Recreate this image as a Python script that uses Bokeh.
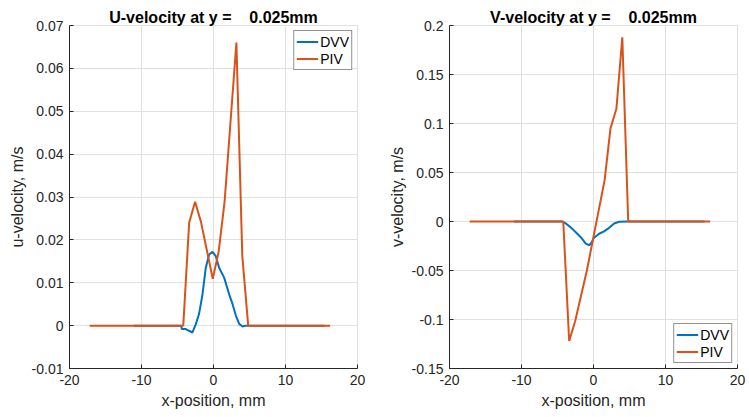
from bokeh.plotting import figure
from bokeh.layouts import row
from bokeh.models import FixedTicker, Legend, LegendItem, Range1d
from bokeh.embed import file_html
from bokeh.resources import INLINE

# ---- data ----
u_dvv_x = [-11.05, -4.5, -4.4, -3.86, -3.4, -2.92, -2.47, -2.01, -1.53, -1.07, -0.61, -0.14,
           0.32, 0.78, 1.48, 2.17, 2.65, 3.11, 3.57, 4.04, 4.5, 15.4]
u_dvv_y = [0, 0, -0.0008, -0.0008, -0.0012, -0.0016, 0.0003, 0.0027, 0.0073, 0.0135, 0.0166, 0.0172,
           0.0162, 0.0135, 0.0112, 0.0073, 0.005, 0.0023, 0.0004, -0.0002, 0, 0]
u_piv_x = [-17.2, -4.2, -3.38, -2.56, -1.74, -0.1, 0.72, 1.54, 3.18, 4.0, 4.82, 16.2]
u_piv_y = [0, 0, 0.024, 0.0289, 0.0242, 0.0109, 0.0173, 0.0289, 0.066, 0.0162, 0, 0]

v_dvv_x = [-11.05, -4.31, -3.85, -3.16, -2.46, -1.77, -1.07, -0.61, -0.3, 0.08, 0.78, 1.47,
           2.17, 2.87, 3.56, 4.7, 15.4]
v_dvv_y = [0, 0, -0.002, -0.006, -0.011, -0.016, -0.0225, -0.0242, -0.022, -0.0165, -0.0125, -0.01,
           -0.0065, -0.002, -0.0003, 0, 0]
v_piv_x = [-17.2, -4.2, -3.38, -2.56, -0.92, 1.54, 2.36, 3.18, 4.0, 4.82, 16.2]
v_piv_y = [0, 0, -0.122, -0.102, -0.05, 0.042, 0.095, 0.115, 0.188, 0, 0]

x_ticks = [-20, -10, 0, 10, 20]
x_tick_labels = ["-20", "-10", "0", "10", "20"]
u_ticks = [-0.01, 0, 0.01, 0.02, 0.03, 0.04, 0.05, 0.06, 0.07]
u_tick_labels = ["-0.01", "0", "0.01", "0.02", "0.03", "0.04", "0.05", "0.06", "0.07"]
v_ticks = [-0.15, -0.1, -0.05, 0, 0.05, 0.1, 0.15, 0.2]
v_tick_labels = ["-0.15", "-0.1", "-0.05", "0", "0.05", "0.1", "0.15", "0.2"]

titles = ["U-velocity at y =\u00a0\u00a0\u00a0\u00a00.025mm", "V-velocity at y =\u00a0\u00a0\u00a0\u00a00.025mm"]
ylabels = ["u-velocity, m/s", "v-velocity, m/s"]
xlabel = "x-position, mm"

DVV_C = "#0072BD"
PIV_C = "#D95319"
AX_C = "#262626"
GRID_C = "#e0e0e0"
FONT = "Liberation Sans"


def make(width, right_border, title, ylab, yr, yt, ytl, dx, dy, px, py, legend_loc):
    p = figure(width=width, height=417, output_backend="svg", toolbar_location=None,
               x_range=Range1d(-20, 20), y_range=Range1d(*yr),
               min_border_left=69, min_border_right=right_border,
               min_border_top=25, min_border_bottom=49)
    p.title.text = title
    p.title.align = "center"
    p.title.text_font = FONT
    p.title.text_font_size = "16px"
    p.title.text_font_style = "bold"
    p.title.text_color = "#000000"
    p.title.standoff = 0
    p.title.offset = 0

    p.outline_line_color = GRID_C
    p.xaxis.ticker = FixedTicker(ticks=x_ticks)
    p.xaxis.major_label_overrides = dict(zip(x_ticks, x_tick_labels))
    p.yaxis.ticker = FixedTicker(ticks=yt)
    p.yaxis.major_label_overrides = dict(zip(yt, ytl))
    p.xgrid.ticker = FixedTicker(ticks=x_ticks)
    p.ygrid.ticker = FixedTicker(ticks=yt)
    for g in (p.xgrid, p.ygrid):
        g.grid_line_color = GRID_C
        g.grid_line_width = 1
    for ax in (p.xaxis, p.yaxis):
        ax.axis_line_color = AX_C
        ax.axis_line_width = 1
        ax.major_tick_line_color = AX_C
        ax.major_tick_in = 4
        ax.major_tick_out = 0
        ax.minor_tick_line_color = None
        ax.major_label_text_font = FONT
        ax.major_label_text_font_size = "14px"
        ax.major_label_text_color = AX_C
        ax.axis_label_text_font = FONT
        ax.axis_label_text_font_size = "16px"
        ax.axis_label_text_font_style = "normal"
        ax.axis_label_text_color = AX_C
        ax.major_label_standoff = 6
        ax.axis_label_standoff = 4
    p.xaxis.axis_label = xlabel
    p.yaxis.axis_label = ylab
    p.yaxis.axis_label_standoff = 3

    r1 = p.line(dx, dy, line_color=DVV_C, line_width=2)
    r2 = p.line(px, py, line_color=PIV_C, line_width=2)
    leg = Legend(items=[LegendItem(label="DVV", renderers=[r1]),
                        LegendItem(label="PIV", renderers=[r2])],
                 location=legend_loc)
    leg.label_text_font = FONT
    leg.label_text_font_size = "14px"
    leg.label_text_color = "#000000"
    leg.border_line_color = AX_C
    leg.border_line_width = 1
    leg.background_fill_color = "white"
    leg.background_fill_alpha = 1
    leg.padding = 2
    leg.spacing = 0
    leg.margin = 5
    leg.glyph_width = 22
    leg.glyph_height = 17
    leg.label_height = 17
    leg.label_standoff = 2
    p.add_layout(leg)
    return p


p1 = make(380, 23, titles[0], ylabels[0], (-0.01, 0.07), u_ticks, u_tick_labels,
          u_dvv_x, u_dvv_y, u_piv_x, u_piv_y, "top_right")
p2 = make(369, 12, titles[1], ylabels[1], (-0.15, 0.2), v_ticks, v_tick_labels,
          v_dvv_x, v_dvv_y, v_piv_x, v_piv_y, "bottom_right")

layout = row(p1, p2)
open("out.html", "w").write(file_html(layout, INLINE))
